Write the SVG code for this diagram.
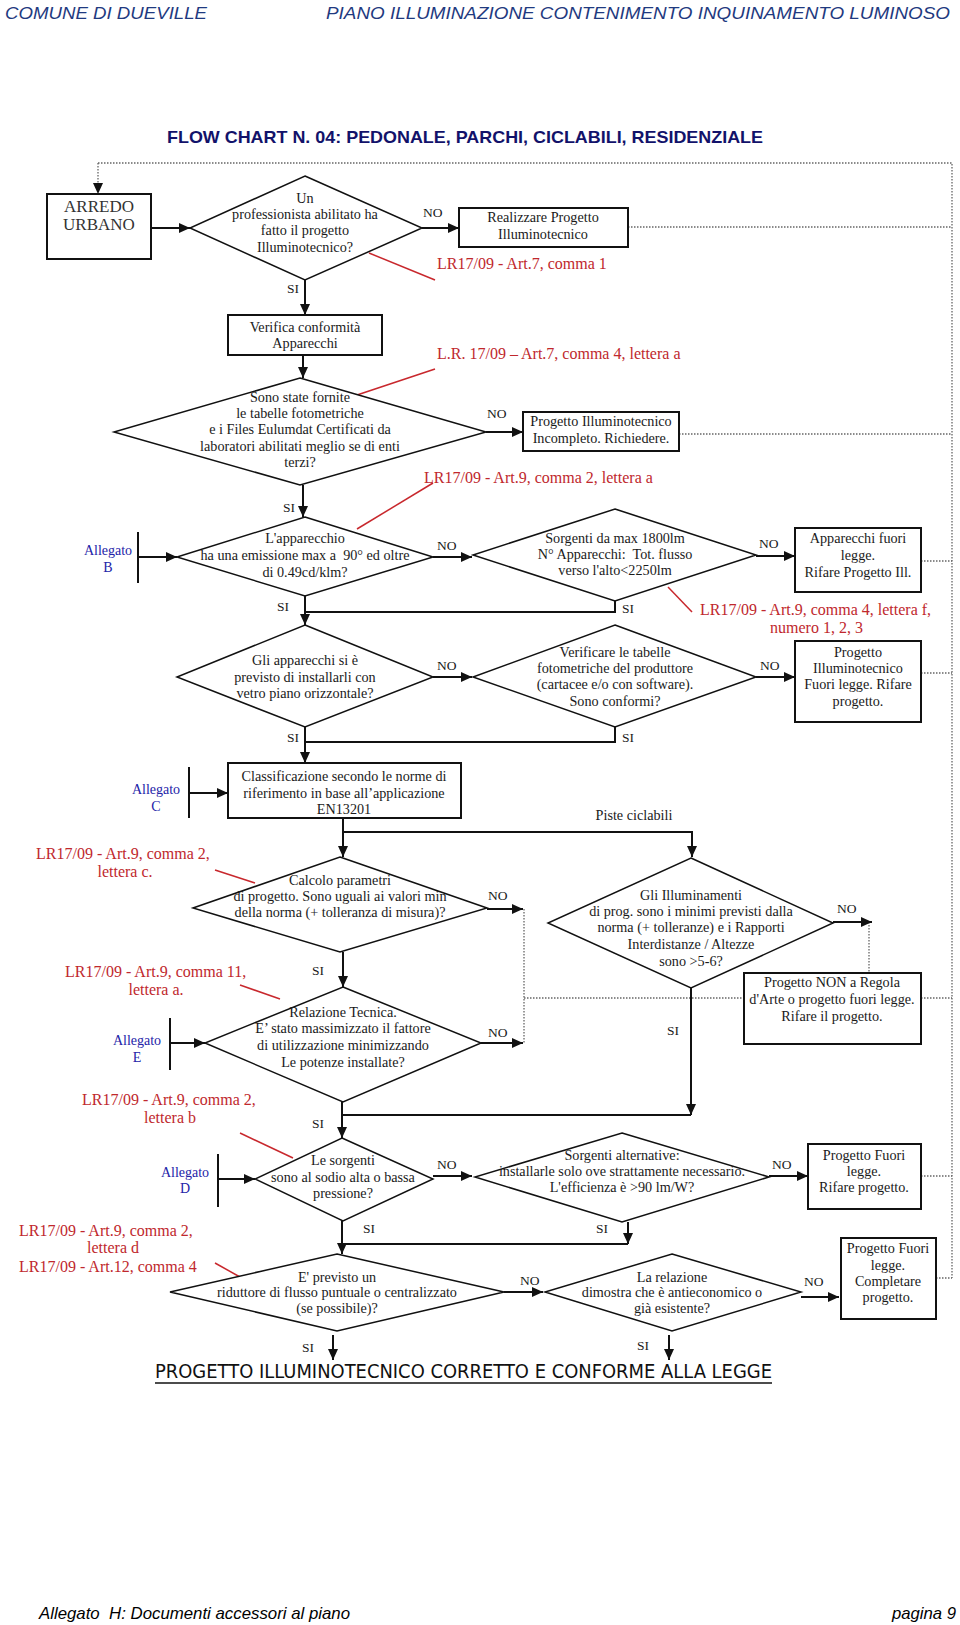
<svg xmlns="http://www.w3.org/2000/svg" width="960" height="1625" viewBox="0 0 960 1625" xml:space="preserve">
<style>
text{white-space:pre}
.t{font-family:"Liberation Serif","Times New Roman",serif;font-size:14.2px;fill:#1a1a1a;text-anchor:middle}
.l{font-family:"Liberation Serif","Times New Roman",serif;font-size:13.5px;fill:#1a1a1a}
.r{font-family:"Liberation Serif","Times New Roman",serif;font-size:16px;fill:#c0282d}
.b{font-family:"Liberation Serif","Times New Roman",serif;font-size:14px;fill:#2323a8;text-anchor:middle}
.box{fill:#fff;stroke:#111;stroke-width:2}
.dia{fill:#fff;stroke:#111;stroke-width:1.5}
.c{fill:none;stroke:#111;stroke-width:2}
.d{fill:none;stroke:#666;stroke-width:1.3;stroke-dasharray:1.5 1.5}
.rl{stroke:#c8282d;stroke-width:1.5}
.bar{stroke:#111;stroke-width:2}
.hd{font-family:"Liberation Sans",Arial,sans-serif;font-style:italic;font-size:17px;fill:#1f3a80}
</style>
<defs>
<marker id="a" markerUnits="userSpaceOnUse" markerWidth="12" markerHeight="10" refX="11" refY="5" orient="auto">
<path d="M0,0 L11,5 L0,10 z" fill="#111"/>
</marker>
</defs>
<rect width="960" height="1625" fill="#fff"/>
<text class="hd" x="5" y="19" textLength="202" lengthAdjust="spacingAndGlyphs">COMUNE DI DUEVILLE</text>
<text class="hd" x="326" y="19" textLength="624" lengthAdjust="spacingAndGlyphs">PIANO ILLUMINAZIONE CONTENIMENTO INQUINAMENTO LUMINOSO</text>
<text x="167" y="143" font-family="Liberation Sans,Arial,sans-serif" font-weight="bold" font-size="17" fill="#12126a" textLength="596" lengthAdjust="spacingAndGlyphs">FLOW CHART N. 04: PEDONALE, PARCHI, CICLABILI, RESIDENZIALE</text>
<g id="connectors">
<path class="d" d="M98,163 H952 V1278"/>
<path class="d" d="M98,163 V194" marker-end="url(#a)"/>
<path class="d" d="M628,227 H952"/>
<path class="d" d="M679,434 H952"/>
<path class="d" d="M921,561 H952"/>
<path class="d" d="M921,673 H952"/>
<path class="d" d="M524,909 V1043"/>
<path class="d" d="M524,998 H744"/>
<path class="d" d="M921,998 H952"/>
<path class="d" d="M869,922 V973"/>
<path class="d" d="M921,1176 H952"/>
<path class="d" d="M936,1278 H952"/>
<path class="c" d="M151,228 H190" marker-end="url(#a)"/>
<path class="c" d="M422,228 H459" marker-end="url(#a)"/>
<path class="c" d="M305,280 V315" marker-end="url(#a)"/>
<path class="c" d="M303,355 V378" marker-end="url(#a)"/>
<path class="c" d="M486,432 H523" marker-end="url(#a)"/>
<path class="c" d="M303,485 V517" marker-end="url(#a)"/>
<path class="bar" d="M138,532 V583"/>
<path class="c" d="M138,557 H177" marker-end="url(#a)"/>
<path class="c" d="M433,557 H472" marker-end="url(#a)"/>
<path class="c" d="M756,556 H795" marker-end="url(#a)"/>
<path class="c" d="M305,596 V625" marker-end="url(#a)"/>
<path class="c" d="M615,601 V612 H305"/>
<path class="c" d="M433,677 H472" marker-end="url(#a)"/>
<path class="c" d="M756,677 H795" marker-end="url(#a)"/>
<path class="c" d="M305,727 V763" marker-end="url(#a)"/>
<path class="c" d="M615,727 V742 H305"/>
<path class="bar" d="M189,767 V818"/>
<path class="c" d="M189,793 H228" marker-end="url(#a)"/>
<path class="c" d="M343,818 V857" marker-end="url(#a)"/>
<path class="c" d="M343,832 H692 V857" marker-end="url(#a)"/>
<path class="c" d="M487,909 H523" marker-end="url(#a)"/>
<path class="c" d="M343,952 V987" marker-end="url(#a)"/>
<path class="bar" d="M170,1018 V1070"/>
<path class="c" d="M170,1043 H205" marker-end="url(#a)"/>
<path class="c" d="M481,1043 H523" marker-end="url(#a)"/>
<path class="c" d="M833,922 H872" marker-end="url(#a)"/>
<path class="c" d="M691,988 V1115" marker-end="url(#a)"/>
<path class="c" d="M691,1115 H342"/>
<path class="c" d="M342,1102 V1138" marker-end="url(#a)"/>
<path class="bar" d="M218,1154 V1207"/>
<path class="c" d="M218,1179 H255" marker-end="url(#a)"/>
<path class="c" d="M433,1176 H472" marker-end="url(#a)"/>
<path class="c" d="M769,1176 H808" marker-end="url(#a)"/>
<path class="c" d="M342,1221 V1254" marker-end="url(#a)"/>
<path class="c" d="M628,1222 V1244" marker-end="url(#a)"/>
<path class="c" d="M628,1244 H342"/>
<path class="c" d="M504,1292 H543" marker-end="url(#a)"/>
<path class="c" d="M801,1297 H839" marker-end="url(#a)"/>
<path class="c" d="M333,1335 V1360" marker-end="url(#a)"/>
<path class="c" d="M669,1335 V1360" marker-end="url(#a)"/>
<line class="rl" x1="369" y1="253" x2="435" y2="280"/>
<line class="rl" x1="357" y1="395" x2="435" y2="369"/>
<line class="rl" x1="357" y1="529" x2="433" y2="483"/>
<line class="rl" x1="668" y1="587" x2="692" y2="612"/>
<line class="rl" x1="215" y1="870" x2="255" y2="883"/>
<line class="rl" x1="240" y1="985" x2="280" y2="999"/>
<line class="rl" x1="240" y1="1133" x2="293" y2="1158"/>
<line class="rl" x1="215" y1="1263" x2="240" y2="1277"/>
<text class="l" x="423" y="217">NO</text>
<text class="l" x="287" y="293">SI</text>
<text class="l" x="487" y="418">NO</text>
<text class="l" x="283" y="512">SI</text>
<text class="l" x="437" y="550">NO</text>
<text class="l" x="759" y="548">NO</text>
<text class="l" x="277" y="611">SI</text>
<text class="l" x="622" y="613">SI</text>
<text class="l" x="437" y="670">NO</text>
<text class="l" x="760" y="670">NO</text>
<text class="l" x="287" y="742">SI</text>
<text class="l" x="622" y="742">SI</text>
<text class="t" x="634" y="820">Piste ciclabili</text>
<text class="l" x="488" y="900">NO</text>
<text class="l" x="312" y="975">SI</text>
<text class="l" x="488" y="1037">NO</text>
<text class="l" x="837" y="913">NO</text>
<text class="l" x="667" y="1035">SI</text>
<text class="l" x="312" y="1128">SI</text>
<text class="l" x="437" y="1169">NO</text>
<text class="l" x="772" y="1169">NO</text>
<text class="l" x="363" y="1233">SI</text>
<text class="l" x="596" y="1233">SI</text>
<text class="l" x="520" y="1285">NO</text>
<text class="l" x="804" y="1286">NO</text>
<text class="l" x="302" y="1352">SI</text>
<text class="l" x="637" y="1350">SI</text>
</g>
<g id="annotations">
<text class="r" x="437" y="269">LR17/09 - Art.7, comma 1</text>
<text class="r" x="437" y="359">L.R. 17/09 – Art.7, comma 4, lettera a</text>
<text class="r" x="424" y="483">LR17/09 - Art.9, comma 2, lettera a</text>
<text class="r" x="700" y="615">LR17/09 - Art.9, comma 4, lettera f,</text>
<text class="r" x="770" y="633">numero 1, 2, 3</text>
<text class="r" x="36" y="859">LR17/09 - Art.9, comma 2,</text>
<text class="r" x="125" y="877" text-anchor="middle">lettera c.</text>
<text class="r" x="65" y="977">LR17/09 - Art.9, comma 11,</text>
<text class="r" x="156" y="995" text-anchor="middle">lettera a.</text>
<text class="r" x="82" y="1105">LR17/09 - Art.9, comma 2,</text>
<text class="r" x="170" y="1123" text-anchor="middle">lettera b</text>
<text class="r" x="19" y="1236">LR17/09 - Art.9, comma 2,</text>
<text class="r" x="113" y="1253" text-anchor="middle">lettera d</text>
<text class="r" x="19" y="1272">LR17/09 - Art.12, comma 4</text>
<text class="b" x="108" y="555">Allegato</text>
<text class="b" x="108" y="572">B</text>
<text class="b" x="156" y="794">Allegato</text>
<text class="b" x="156" y="811">C</text>
<text class="b" x="137" y="1045">Allegato</text>
<text class="b" x="137" y="1062">E</text>
<text class="b" x="185" y="1177">Allegato</text>
<text class="b" x="185" y="1193">D</text>
</g>
<g id="n-arredo"><rect class="box" x="47" y="194" width="104" height="65"/>
<text class="t" x="99" y="212" style="font-size:17px;fill:#333">ARREDO</text>
<text class="t" x="99" y="230" style="font-size:17px;fill:#333">URBANO</text></g>
<g id="n-d1"><polygon class="dia" points="305,176 422,228 305,280 190,228"/>
<text class="t" x="305" y="203">Un</text>
<text class="t" x="305" y="219">professionista abilitato ha</text>
<text class="t" x="305" y="235">fatto il progetto</text>
<text class="t" x="305" y="252">Illuminotecnico?</text></g>
<g id="n-realizzare"><rect class="box" x="459" y="208" width="169" height="39"/>
<text class="t" x="543" y="222">Realizzare Progetto</text>
<text class="t" x="543" y="239">Illuminotecnico</text></g>
<g id="n-verifica"><rect class="box" x="228" y="315" width="154" height="40"/>
<text class="t" x="305" y="332">Verifica conformità</text>
<text class="t" x="305" y="348">Apparecchi</text></g>
<g id="n-d2"><polygon class="dia" points="300,378 486,432 300,485 114,432"/>
<text class="t" x="300" y="402">Sono state fornite</text>
<text class="t" x="300" y="418">le tabelle fotometriche</text>
<text class="t" x="300" y="434">e i Files Eulumdat Certificati da</text>
<text class="t" x="300" y="451">laboratori abilitati meglio se di enti</text>
<text class="t" x="300" y="467">terzi?</text></g>
<g id="n-incompleto"><rect class="box" x="523" y="412" width="156" height="39"/>
<text class="t" x="601" y="426">Progetto Illuminotecnico</text>
<text class="t" x="601" y="443">Incompleto. Richiedere.</text></g>
<g id="n-d3"><polygon class="dia" points="305,517 433,557 305,596 177,557"/>
<text class="t" x="305" y="543">L'apparecchio</text>
<text class="t" x="305" y="560">ha una emissione max a  90° ed oltre</text>
<text class="t" x="305" y="577">di 0.49cd/klm?</text></g>
<g id="n-d4"><polygon class="dia" points="615,509 756,555 615,601 473,555"/>
<text class="t" x="615" y="543">Sorgenti da max 1800lm</text>
<text class="t" x="615" y="559">N° Apparecchi:  Tot. flusso</text>
<text class="t" x="615" y="575">verso l'alto&lt;2250lm</text></g>
<g id="n-fuori1"><rect class="box" x="795" y="528" width="126" height="64"/>
<text class="t" x="858" y="543">Apparecchi fuori</text>
<text class="t" x="858" y="560">legge.</text>
<text class="t" x="858" y="577">Rifare Progetto Ill.</text></g>
<g id="n-d5"><polygon class="dia" points="305,625 433,677 305,727 177,677"/>
<text class="t" x="305" y="665">Gli apparecchi si è</text>
<text class="t" x="305" y="682">previsto di installarli con</text>
<text class="t" x="305" y="698">vetro piano orizzontale?</text></g>
<g id="n-d6"><polygon class="dia" points="615,625 756,677 615,727 473,677"/>
<text class="t" x="615" y="657">Verificare le tabelle</text>
<text class="t" x="615" y="673">fotometriche del produttore</text>
<text class="t" x="615" y="689">(cartacee e/o con software).</text>
<text class="t" x="615" y="706">Sono conformi?</text></g>
<g id="n-fuori2"><rect class="box" x="795" y="641" width="126" height="81"/>
<text class="t" x="858" y="657">Progetto</text>
<text class="t" x="858" y="673">Illuminotecnico</text>
<text class="t" x="858" y="689">Fuori legge. Rifare</text>
<text class="t" x="858" y="706">progetto.</text></g>
<g id="n-classif"><rect class="box" x="228" y="763" width="233" height="55"/>
<text class="t" x="344" y="781">Classificazione secondo le norme di</text>
<text class="t" x="344" y="798">riferimento in base all’applicazione</text>
<text class="t" x="344" y="814">EN13201</text></g>
<g id="n-d7"><polygon class="dia" points="340,857 487,908 340,952 193,908"/>
<text class="t" x="340" y="885">Calcolo parametri</text>
<text class="t" x="340" y="901">di progetto. Sono uguali ai valori min</text>
<text class="t" x="340" y="917">della norma (+ tolleranza di misura)?</text></g>
<g id="n-d8"><polygon class="dia" points="691,858 833,923 691,988 548,923"/>
<text class="t" x="691" y="900">Gli Illuminamenti</text>
<text class="t" x="691" y="916">di prog. sono i minimi previsti dalla</text>
<text class="t" x="691" y="932">norma (+ tolleranze) e i Rapporti</text>
<text class="t" x="691" y="949">Interdistanze / Altezze</text>
<text class="t" x="691" y="966">sono &gt;5-6?</text></g>
<g id="n-nonregola"><rect class="box" x="744" y="973" width="177" height="71"/>
<text class="t" x="832" y="987">Progetto NON a Regola</text>
<text class="t" x="832" y="1004">d'Arte o progetto fuori legge.</text>
<text class="t" x="832" y="1021">Rifare il progetto.</text></g>
<g id="n-d9"><polygon class="dia" points="343,987 481,1043 343,1102 205,1043"/>
<text class="t" x="343" y="1017">Relazione Tecnica.</text>
<text class="t" x="343" y="1033">E’ stato massimizzato il fattore</text>
<text class="t" x="343" y="1050">di utilizzazione minimizzando</text>
<text class="t" x="343" y="1067">Le potenze installate?</text></g>
<g id="n-d10"><polygon class="dia" points="342,1138 433,1179 343,1221 255,1179"/>
<text class="t" x="343" y="1165">Le sorgenti</text>
<text class="t" x="343" y="1182">sono al sodio alta o bassa</text>
<text class="t" x="343" y="1198">pressione?</text></g>
<g id="n-d11"><polygon class="dia" points="622,1133 769,1177 622,1222 475,1177"/>
<text class="t" x="622" y="1160">Sorgenti alternative:</text>
<text class="t" x="622" y="1176">installarle solo ove strattamente necessario.</text>
<text class="t" x="622" y="1192">L'efficienza è &gt;90 lm/W?</text></g>
<g id="n-fuori3"><rect class="box" x="808" y="1144" width="113" height="65"/>
<text class="t" x="864" y="1160">Progetto Fuori</text>
<text class="t" x="864" y="1176">legge.</text>
<text class="t" x="864" y="1192">Rifare progetto.</text></g>
<g id="n-d12"><polygon class="dia" points="337,1254 504,1292 337,1331 170,1292"/>
<text class="t" x="337" y="1282">E' previsto un</text>
<text class="t" x="337" y="1297">riduttore di flusso puntuale o centralizzato</text>
<text class="t" x="337" y="1313">(se possibile)?</text></g>
<g id="n-d13"><polygon class="dia" points="672,1254 801,1292 672,1331 545,1292"/>
<text class="t" x="672" y="1282">La relazione</text>
<text class="t" x="672" y="1297">dimostra che è antieconomico o</text>
<text class="t" x="672" y="1313">già esistente?</text></g>
<g id="n-fuori4"><rect class="box" x="841" y="1238" width="95" height="81"/>
<text class="t" x="888" y="1253">Progetto Fuori</text>
<text class="t" x="888" y="1270">legge.</text>
<text class="t" x="888" y="1286">Completare</text>
<text class="t" x="888" y="1302">progetto.</text></g>
<g id="n-final">
<text x="155" y="1378" font-family="DejaVu Sans,Verdana,sans-serif" font-size="19" fill="#111" textLength="617" lengthAdjust="spacingAndGlyphs">PROGETTO ILLUMINOTECNICO CORRETTO E CONFORME ALLA LEGGE</text>
<line x1="155" y1="1383" x2="772" y2="1383" stroke="#111" stroke-width="1.3"/>
</g>
<text class="hd" x="39" y="1619" textLength="311" lengthAdjust="spacingAndGlyphs" style="fill:#000">Allegato  H: Documenti accessori al piano</text>
<text class="hd" x="892" y="1619" textLength="64" lengthAdjust="spacingAndGlyphs" style="fill:#000">pagina 9</text>
</svg>
